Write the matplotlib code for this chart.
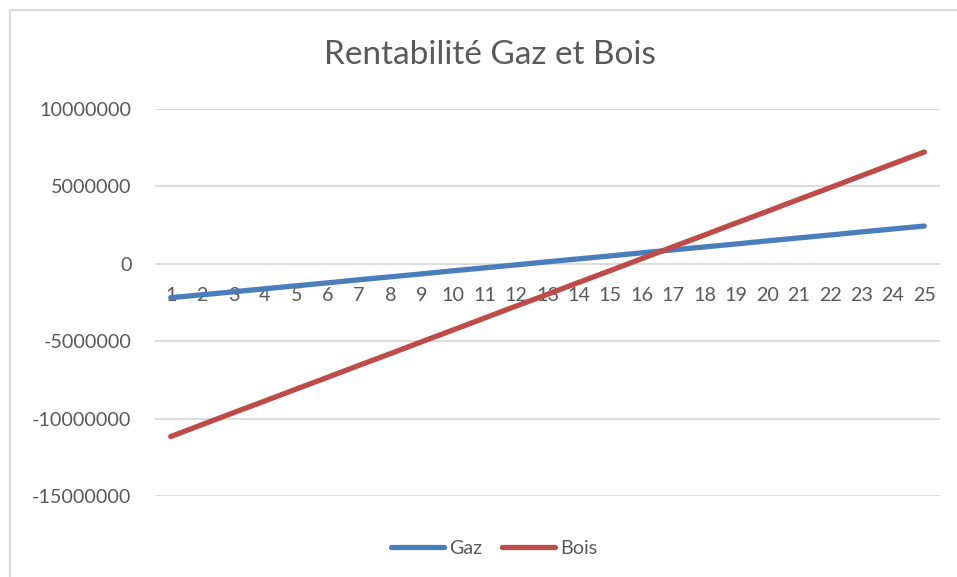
import matplotlib.pyplot as plt
from matplotlib.patches import Rectangle

# données
annees = list(range(1, 26))
gaz = [-2190000, -2000000, -1810000, -1610000, -1420000, -1230000, -1030000,
       -840000, -650000, -450000, -260000, -70000, 130000, 320000, 510000,
       710000, 900000, 1090000, 1280000, 1480000, 1670000, 1860000, 2060000,
       2250000, 2440000]
bois = [-11160000, -10390000, -9620000, -8860000, -8090000, -7330000, -6560000,
        -5800000, -5030000, -4270000, -3500000, -2730000, -1970000, -1200000,
        -440000, 330000, 1100000, 1860000, 2630000, 3390000, 4160000, 4920000,
        5690000, 6460000, 7220000]
y_ticks = [-15000000, -10000000, -5000000, 0, 5000000, 10000000]

plt.rcParams['font.family'] = ['Lato', 'DejaVu Sans']
gris = '#595959'

fig = plt.figure(figsize=(9.57, 5.77), dpi=100)
ax = fig.add_axes([155 / 957, 1 - 496 / 577, 785 / 957, 387 / 577])

# cadre du graphique
fig.patches.append(Rectangle((10 / 957, -0.1), 1.1, (577 - 10) / 577 + 0.1,
                             transform=fig.transFigure, fill=False,
                             edgecolor='#d9d9d9', linewidth=1.5))

ax.plot(annees, gaz, color='#4a7ebb', linewidth=3.8, solid_capstyle='round', label='Gaz')
ax.plot(annees, bois, color='#be4b48', linewidth=3.8, solid_capstyle='round', label='Bois')

ax.set_xlim(0.5, 25.5)
ax.set_ylim(-15000000, 10000000)
ax.set_yticks(y_ticks)
ax.set_yticklabels([str(v) for v in y_ticks])
ax.set_xticks(annees)
ax.set_xticklabels([str(a) for a in annees])
ax.grid(axis='y', color='#d9d9d9', linewidth=1.3)
ax.set_axisbelow(True)
for s in ['top', 'right', 'left']:
    ax.spines[s].set_visible(False)
ax.spines['bottom'].set_position(('data', 0))
ax.spines['bottom'].set_visible(False)
ax.tick_params(axis='y', length=0, pad=17, labelsize=14.2, labelcolor=gris)
ax.tick_params(axis='x', length=0, pad=17, labelsize=14.2, labelcolor=gris)

fig.text(490 / 957, 1 - 55 / 577, 'Rentabilité Gaz et Bois', ha='center', va='center',
         fontsize=24, color=gris)

leg = fig.legend(loc='center', bbox_to_anchor=(494 / 957, 1 - 548 / 577), ncol=2,
                 frameon=False, fontsize=14.2, handlelength=2.7, handletextpad=0.25,
                 columnspacing=1.0)
for t in leg.get_texts():
    t.set_color(gris)

fig.savefig('out.png', dpi=100)
